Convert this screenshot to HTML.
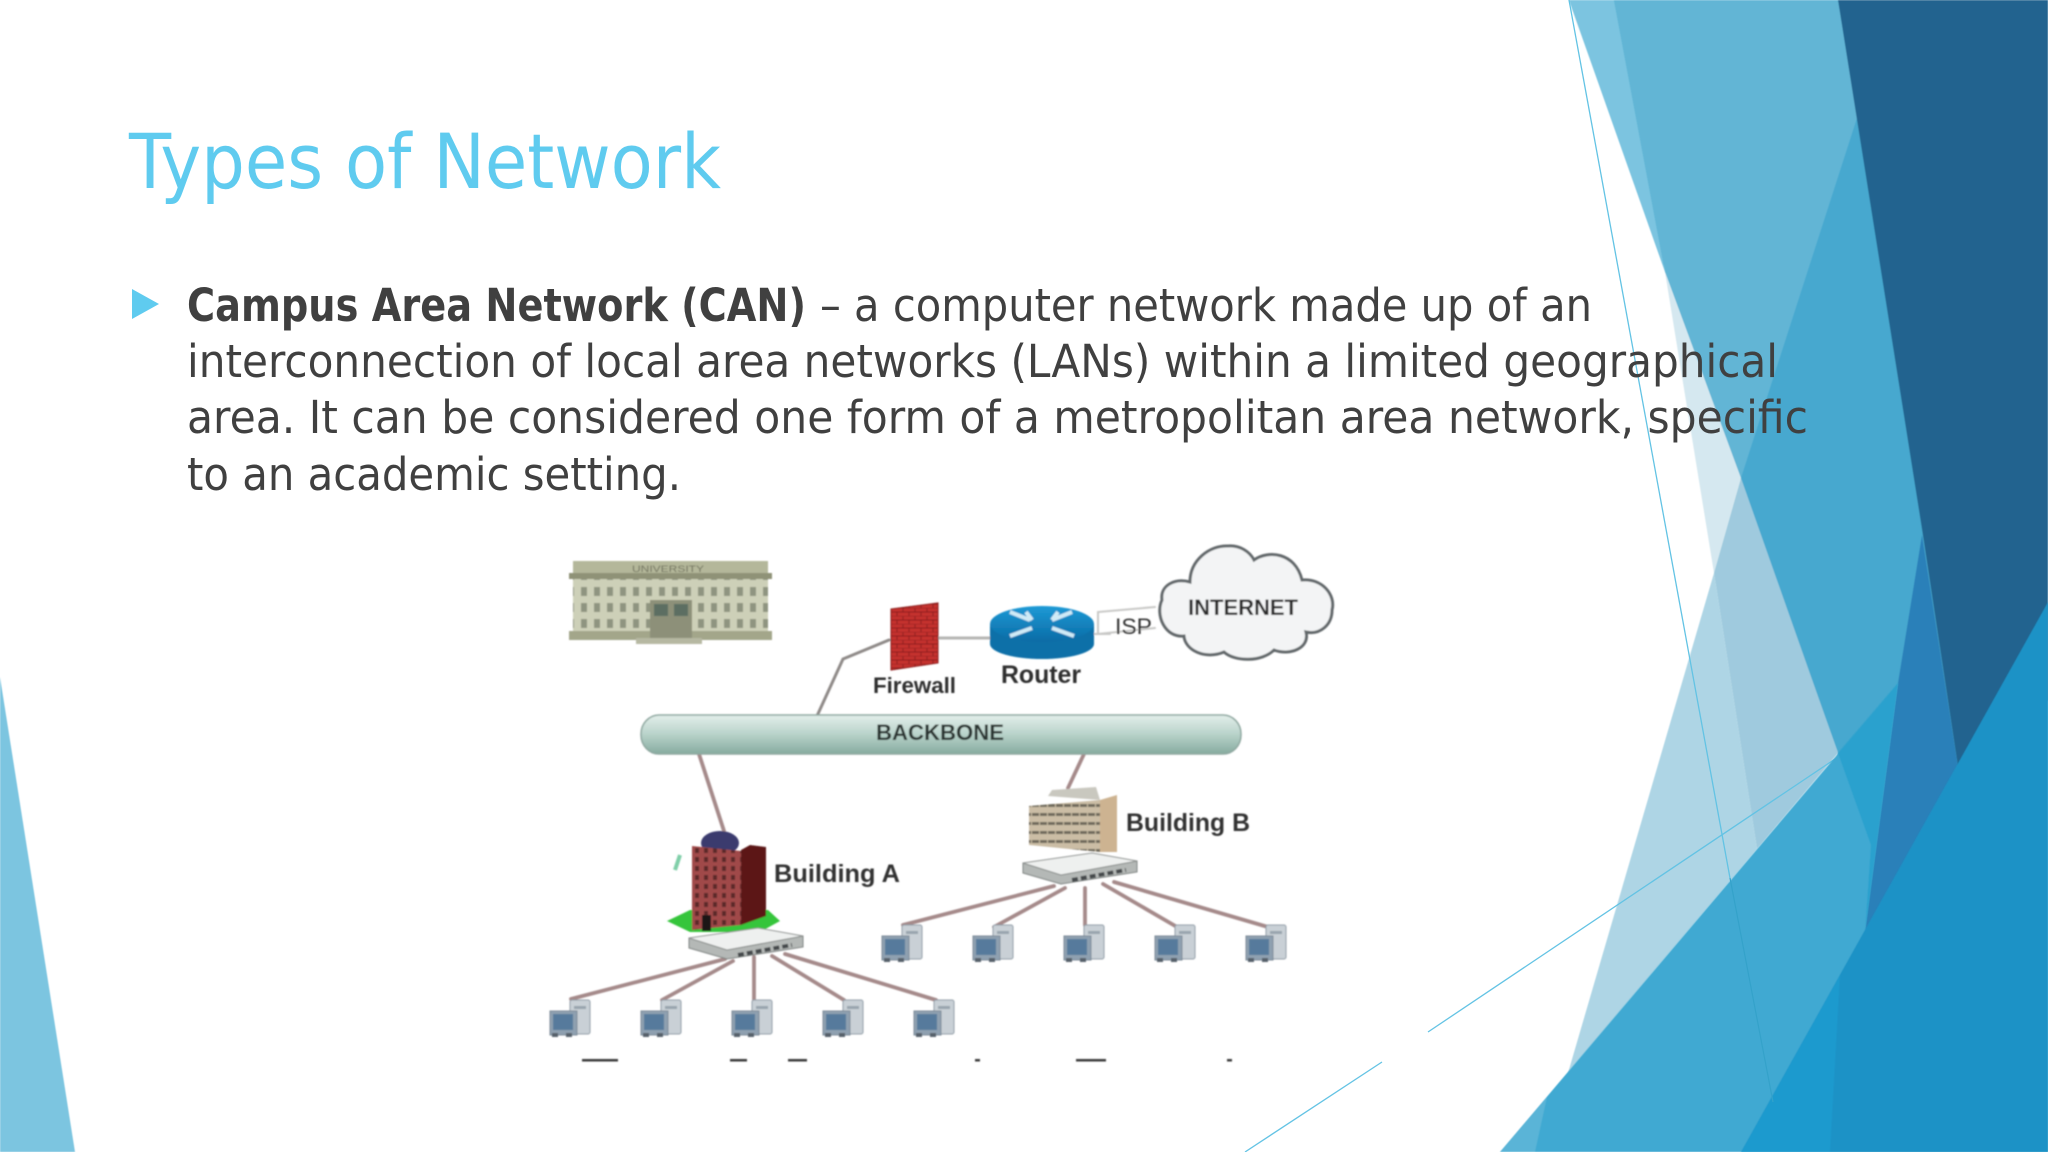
<!DOCTYPE html>
<html>
<head>
<meta charset="utf-8">
<title>Types of Network</title>
<style>
html,body{margin:0;padding:0;background:#fff;width:2048px;height:1152px;overflow:hidden}
svg{display:block}
text{font-family:"Liberation Sans",sans-serif}
text.d{font-family:"DejaVu Sans","Liberation Sans",sans-serif}
</style>
</head>
<body>
<svg xmlns="http://www.w3.org/2000/svg" width="2048" height="1152" viewBox="0 0 2048 1152">
<defs>
<filter id="b2" x="-5%" y="-5%" width="110%" height="110%"><feGaussianBlur stdDeviation="0.9"/></filter>
<filter id="b3" x="-5%" y="-5%" width="110%" height="110%"><feGaussianBlur stdDeviation="0.5"/></filter>
<linearGradient id="bb" x1="0" y1="0" x2="0" y2="1">
<stop offset="0" stop-color="#e3eeea"/><stop offset="0.45" stop-color="#bcd5cd"/><stop offset="1" stop-color="#86ab9f"/>
</linearGradient>
<linearGradient id="rt" x1="0" y1="0" x2="0" y2="1">
<stop offset="0" stop-color="#1d9ad6"/><stop offset="1" stop-color="#0a6ba5"/>
</linearGradient>
<pattern id="win" width="13" height="16" patternUnits="userSpaceOnUse" x="578" y="584">
<rect width="13" height="16" fill="#cdd0b8"/><rect x="3" y="3" width="6" height="9" fill="#8f9480"/>
</pattern>
<pattern id="brick" width="12" height="8" patternUnits="userSpaceOnUse">
<rect width="12" height="8" fill="#c4302d"/><path d="M0 0H12M0 4H12M3 0V4M9 4V8" stroke="#8c1f1e" stroke-width="1"/>
</pattern>
<pattern id="wa" width="9" height="9" patternUnits="userSpaceOnUse">
<rect width="9" height="9" fill="#a04a48"/><rect x="2" y="2" width="4" height="5" fill="#5d2a2c"/>
</pattern>
<pattern id="wb" width="8" height="9" patternUnits="userSpaceOnUse">
<rect width="8" height="9" fill="#cbbda5"/><rect x="0" y="3" width="7" height="3" fill="#6f6a5c"/>
</pattern>
<g id="pc">
<rect x="20" y="0" width="20" height="34" rx="2" fill="#c9d0d6" stroke="#8f9ba6" stroke-width="1"/>
<rect x="24" y="6" width="12" height="3" fill="#98a4ae"/>
<rect x="0" y="11" width="27" height="24" fill="#8fa0b0" stroke="#7c8a97" stroke-width="1"/>
<rect x="3" y="14" width="20" height="16" fill="#567a9c"/>
<rect x="2" y="33" width="6" height="4" fill="#56606b"/>
<rect x="16" y="33" width="6" height="4" fill="#56606b"/>
</g>
<g id="sw">
<polygon points="689,938 689,948 727,959 803,947 803,936 727,950" fill="#b4b8b6" stroke="#7d8280" stroke-width="1"/>
<polygon points="689,938 758,928 803,936 727,950" fill="#eef0ef" stroke="#8d918f" stroke-width="1"/>
<path d="M738,955 L792,945" stroke="#454a4c" stroke-width="4" stroke-dasharray="6 3"/>
</g>
</defs>

<!-- background facets -->
<g filter="url(#b3)">
<polygon points="0,677 75,1152 0,1152" fill="#7cc5e0"/>
<polygon points="1569,0 2048,0 2048,1152 1741,1152 1838,753" fill="#46a8cf"/>
<polygon points="1569,0 1614,0 1665,272" fill="#7cc4e0"/>
<polygon points="1614,0 1838,0 1857,118 1741,478 1665,272" fill="#62b5d5"/>
<polygon points="1665,272 1741,478 1714,573" fill="#d5e8f0"/>
<polygon points="1741,478 1838,753 1757,849 1714,573" fill="#9fcade"/>
<polygon points="1714,573 1757,849 1568,1073" fill="#aed5e5"/>
<polygon points="1838,0 2048,0 2048,700 1965,813 1922,529" fill="#24648f"/>
<polygon points="1922,535 1965,813 1870,950 1863,945 1898,683" fill="#2a80b9"/>
</g>

<!-- hairlines behind the bottom facets -->
<g fill="none" stroke="#63c3e4" stroke-width="1.3">
<path d="M1569,0 L1730,878"/>
<path d="M1245,1152 L1382,1062"/>
<path d="M1428,1032 L1838,757"/>
</g>

<g filter="url(#b3)">
<polygon points="1500,1152 1898,683 1863,945 1780,1152" fill="#3fa9d2"/>
<polygon points="1838,753 1898,683 1865,933 1871,845" fill="#2ba1ce"/>
<polygon points="1500,1152 1547,1097 1535,1152" fill="#5ab4d7"/>
<polygon points="1741,1152 2048,602 2048,1152" fill="#1b92c6"/>
<polygon points="1741,1152 1840,975 1830,1152" fill="#1d9ace"/>
</g>
<path d="M1730,878 L1773,1102" stroke="#34a2ca" stroke-width="1.2" fill="none"/>

<!-- title + body -->
<text class="d" x="129" y="188" font-size="76" fill="#5fcbef" textLength="592" lengthAdjust="spacingAndGlyphs">Types of Network</text>
<polygon points="132,289 159,304 132,319" fill="#5fcbef"/>
<g fill="#404040" font-size="45">
<text class="d" x="187" y="321" font-weight="bold" textLength="619" lengthAdjust="spacingAndGlyphs">Campus Area Network (CAN)</text>
<text class="d" x="820" y="321" textLength="772" lengthAdjust="spacingAndGlyphs">– a computer network made up of an</text>
<text class="d" x="187" y="377" textLength="1591" lengthAdjust="spacingAndGlyphs">interconnection of local area networks (LANs) within a limited geographical</text>
<text class="d" x="187" y="433" textLength="1621" lengthAdjust="spacingAndGlyphs">area. It can be considered one form of a metropolitan area network, specific</text>
<text class="d" x="187" y="490" textLength="494" lengthAdjust="spacingAndGlyphs">to an academic setting.</text>
</g>

<!-- network diagram -->
<g filter="url(#b2)">
<!-- university -->
<rect x="573" y="561" width="195" height="14" fill="#b4b79a"/>
<text x="632" y="572" font-size="9" fill="#6e705c" textLength="72" lengthAdjust="spacingAndGlyphs">UNIVERSITY</text>
<rect x="569" y="573" width="203" height="6" fill="#8f9277"/>
<rect x="573" y="579" width="195" height="54" fill="url(#win)"/>
<rect x="569" y="631" width="203" height="9" fill="#a3a68a"/>
<rect x="650" y="600" width="42" height="40" fill="#8d9079"/>
<rect x="654" y="604" width="14" height="12" fill="#5c6e62"/>
<rect x="674" y="604" width="14" height="12" fill="#5c6e62"/>
<rect x="636" y="638" width="66" height="6" fill="#b6b8a2"/>

<!-- connectors -->
<g fill="none" stroke-linecap="round">
<path d="M889,640 L843,659 L817,716" stroke="#8f8a88" stroke-width="3"/>
<path d="M939,638 L990,638" stroke="#b5b5b2" stroke-width="3"/>
<path d="M1095,634 L1110,634 M1098,634 L1098,612 L1155,607 M1098,634 L1155,628" stroke="#c8c8c6" stroke-width="2"/>
<g stroke="#a58a8a" stroke-width="3.8">
<path d="M699,754 L724,831"/>
<path d="M1084,754 L1068,788"/>
<path d="M1054,886 L903,925"/>
<path d="M1065,888 L994,927"/>
<path d="M1085,888 L1085,925"/>
<path d="M1103,884 L1177,927"/>
<path d="M1114,882 L1268,927"/>
<path d="M725,959 L571,999"/>
<path d="M733,961 L662,1000"/>
<path d="M754,957 L754,1000"/>
<path d="M772,956 L844,1000"/>
<path d="M785,954 L936,1000"/>
</g>
</g>

<!-- firewall -->
<polygon points="891,609 938,603 938,663 891,670" fill="url(#brick)"/>
<polygon points="891,609 938,603 938,663 891,670" fill="none" stroke="#8a1f1e" stroke-width="1"/>
<text x="873" y="693" font-size="22" font-weight="bold" fill="#2e2e2e" textLength="83" lengthAdjust="spacingAndGlyphs">Firewall</text>

<!-- router -->
<path d="M990,624 V644 A52,15 0 0 0 1094,644 V624 Z" fill="#0b6fa8"/>
<ellipse cx="1042" cy="624" rx="52" ry="18" fill="url(#rt)"/>
<path d="M1010,612 L1030,620 M1026,612 L1032,620 M1032,628 L1010,636 M1072,612 L1052,620 M1058,612 L1052,620 M1052,628 L1074,636" stroke="#cfeaf6" stroke-width="4" fill="none"/>
<text x="1001" y="683" font-size="25" font-weight="bold" fill="#2e2e2e" textLength="80" lengthAdjust="spacingAndGlyphs">Router</text>
<text x="1115" y="634" font-size="22" fill="#333" textLength="37" lengthAdjust="spacingAndGlyphs">ISP</text>

<!-- cloud -->
<path d="M1162,600 C1160,585 1175,578 1190,582 C1190,560 1210,545 1228,546 C1240,545 1250,552 1254,560 C1268,550 1295,552 1302,580 C1322,578 1336,595 1332,610 C1332,625 1320,635 1306,632 C1310,648 1290,656 1274,650 C1262,662 1235,662 1224,652 C1205,660 1185,650 1184,636 C1165,638 1155,615 1162,600Z" fill="#f3f4f5" stroke="#62676a" stroke-width="3"/>
<text x="1188" y="615" font-size="22" font-weight="bold" fill="#2a2a2a" textLength="110" lengthAdjust="spacingAndGlyphs">INTERNET</text>

<!-- backbone -->
<rect x="641" y="715" width="600" height="39" rx="18" ry="19" fill="url(#bb)" stroke="#8fa8a0" stroke-width="1.5"/>
<text x="876" y="740" font-size="22" font-weight="bold" fill="#2c3432" textLength="128" lengthAdjust="spacingAndGlyphs">BACKBONE</text>

<!-- building A -->
<polygon points="667,921 690,910 768,910 780,921 760,932 690,932" fill="#35c53a"/>
<ellipse cx="720" cy="843" rx="19" ry="12" fill="#3b3a6e"/>
<polygon points="741,850 750,845 766,847 766,916 741,925" fill="#5c1414"/>
<polygon points="692,846 741,851 741,925 692,930" fill="url(#wa)"/>
<rect x="702" y="915" width="9" height="16" fill="#1c1414"/>
<path d="M680,855 L675,870" stroke="#7fcfa8" stroke-width="4"/>
<text x="774" y="882" font-size="25" font-weight="bold" fill="#333" textLength="126" lengthAdjust="spacingAndGlyphs">Building A</text>
<use href="#sw"/>

<!-- building B -->
<polygon points="1048,796 1052,790 1096,787 1100,800" fill="#c9c8bf"/>
<polygon points="1100,800 1117,795 1117,852 1100,852" fill="#cdb391"/>
<polygon points="1029,806 1100,800 1100,852 1029,845" fill="url(#wb)"/>
<text x="1126" y="831" font-size="25" font-weight="bold" fill="#333" textLength="124" lengthAdjust="spacingAndGlyphs">Building B</text>
<use href="#sw" transform="translate(334,-75)"/>

<!-- PCs -->
<use href="#pc" transform="translate(882,925)"/>
<use href="#pc" transform="translate(973,925)"/>
<use href="#pc" transform="translate(1064,925)"/>
<use href="#pc" transform="translate(1155,925)"/>
<use href="#pc" transform="translate(1246,925)"/>
<use href="#pc" transform="translate(550,1000)"/>
<use href="#pc" transform="translate(641,1000)"/>
<use href="#pc" transform="translate(732,1000)"/>
<use href="#pc" transform="translate(823,1000)"/>
<use href="#pc" transform="translate(914,1000)"/>

<!-- clipped caption tops -->
<g fill="#3a3a3a">
<rect x="582" y="1059" width="36" height="2.5"/>
<rect x="730" y="1059" width="17" height="2.5"/>
<rect x="788" y="1059" width="19" height="2.5"/>
<rect x="975" y="1059" width="5" height="2.5"/>
<rect x="1076" y="1059" width="30" height="2.5"/>
<rect x="1227" y="1059" width="5" height="2.5"/>
</g>
</g>
</svg>
</body>
</html>
